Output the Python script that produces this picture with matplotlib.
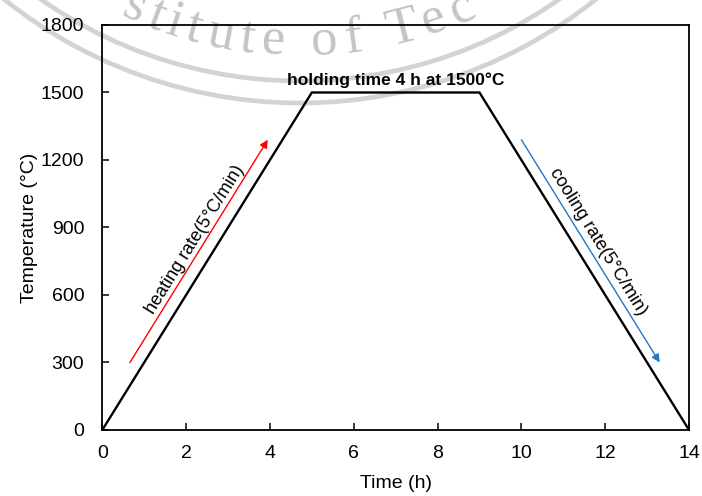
import numpy as np
import matplotlib
matplotlib.use('Agg')
import matplotlib.pyplot as plt
from matplotlib.patches import Arc
from matplotlib.font_manager import FontProperties
from matplotlib.textpath import TextToPath

plt.rcParams['font.family'] = ['Liberation Sans', 'DejaVu Sans']

# sintering schedule: time (h) vs temperature (°C)
time_h = [0, 5, 9, 14]
temp_c = [0, 1500, 1500, 0]

x_ticks = [0, 2, 4, 6, 8, 10, 12, 14]
y_ticks = [0, 300, 600, 900, 1200, 1500, 1800]

heat_arrow = [(0.66, 300), (3.95, 1290)]
cool_arrow = [(10.0, 1290), (13.3, 300)]

hold_label = 'holding time 4 h at 1500°C'
heat_label = 'heating rate(5°C/min)'
cool_label = 'cooling rate(5°C/min)'
seal_text = 'Institute of Technology'

W, H = 702, 496
fig = plt.figure(figsize=(W / 100, H / 100), dpi=100)
fig.patch.set_facecolor('white')

# faint seal in the background, laid out in pixel units
bg = fig.add_axes([0, 0, 1, 1], zorder=0)
bg.set_xlim(0, W)
bg.set_ylim(H, 0)
bg.axis('off')
cx, cy = 300, -371
for r in (452, 474):
    bg.add_patch(Arc((cx, cy), 2 * r, 2 * r, theta1=0, theta2=180,
                     color='#d3d3d3', lw=3.4))

fp = FontProperties(family='Liberation Serif', size=38)
t2p = TextToPath()


def text_px(s):
    w, _, _ = t2p.get_text_width_height_descent(s, fp, ismath=False)
    return w / 0.72


track = 1.38
r_base = 426
phi_ref = np.arcsin((325 - cx) / r_base)
i_ref = seal_text.index('of')
centers = []
for i, ch in enumerate(seal_text):
    centers.append(track * (text_px(seal_text[:i + 1]) - text_px(ch) / 2))
for i, ch in enumerate(seal_text):
    if ch == ' ':
        continue
    phi = phi_ref + (centers[i] - centers[i_ref]) / r_base
    px = cx + r_base * np.sin(phi)
    py = cy + r_base * np.cos(phi)
    if py < 8:
        # glyph sits above the canvas
        continue
    bg.text(px, py, ch, fontproperties=fp, color='#c4c4c4',
            ha='center', va='baseline', rotation=np.degrees(phi),
            rotation_mode='anchor', clip_on=True)

# main plot
ax = fig.add_axes([0.1457, 0.1331, 0.8358, 0.8165], zorder=1)
ax.patch.set_alpha(0)
ax.plot(time_h, temp_c, color='black', lw=1.7, solid_joinstyle='miter')
ax.set_xlim(0, 14)
ax.set_ylim(0, 1800)
ax.set_xticks(x_ticks)
ax.set_yticks(y_ticks)
ax.tick_params(direction='in', length=5, width=1.1, labelsize=14, colors='black')
ax.tick_params(axis='x', pad=11)
ax.tick_params(axis='y', pad=13)
for sp in ax.spines.values():
    sp.set_linewidth(1.3)
ax.set_xlabel('Time (h)', fontsize=14, labelpad=9)
ax.set_ylabel('Temperature (°C)', fontsize=14, labelpad=2)

ax.annotate('', xy=heat_arrow[1], xytext=heat_arrow[0],
            arrowprops=dict(arrowstyle='-|>', color='#ff0000', lw=1.0,
                            mutation_scale=12, shrinkA=0, shrinkB=0))
ax.annotate('', xy=cool_arrow[1], xytext=cool_arrow[0],
            arrowprops=dict(arrowstyle='-|>', color='#1f78c8', lw=1.0,
                            mutation_scale=12, shrinkA=0, shrinkB=0))


def seg_angle(p, q):
    a = ax.transData.transform(p)
    b = ax.transData.transform(q)
    return np.degrees(np.arctan2(b[1] - a[1], b[0] - a[0]))


up = seg_angle((time_h[0], temp_c[0]), (time_h[1], temp_c[1]))
down = seg_angle((time_h[2], temp_c[2]), (time_h[3], temp_c[3]))

ax.text(2.21, 845, heat_label, fontsize=13, rotation=up,
        rotation_mode='anchor', ha='center', va='center')
ax.text(11.82, 838, cool_label, fontsize=13, rotation=down,
        rotation_mode='anchor', ha='center', va='center')
ax.text(7, 1555, hold_label, fontsize=12.5, fontweight='bold',
        ha='center', va='center')

fig.savefig('out.png', dpi=100)
